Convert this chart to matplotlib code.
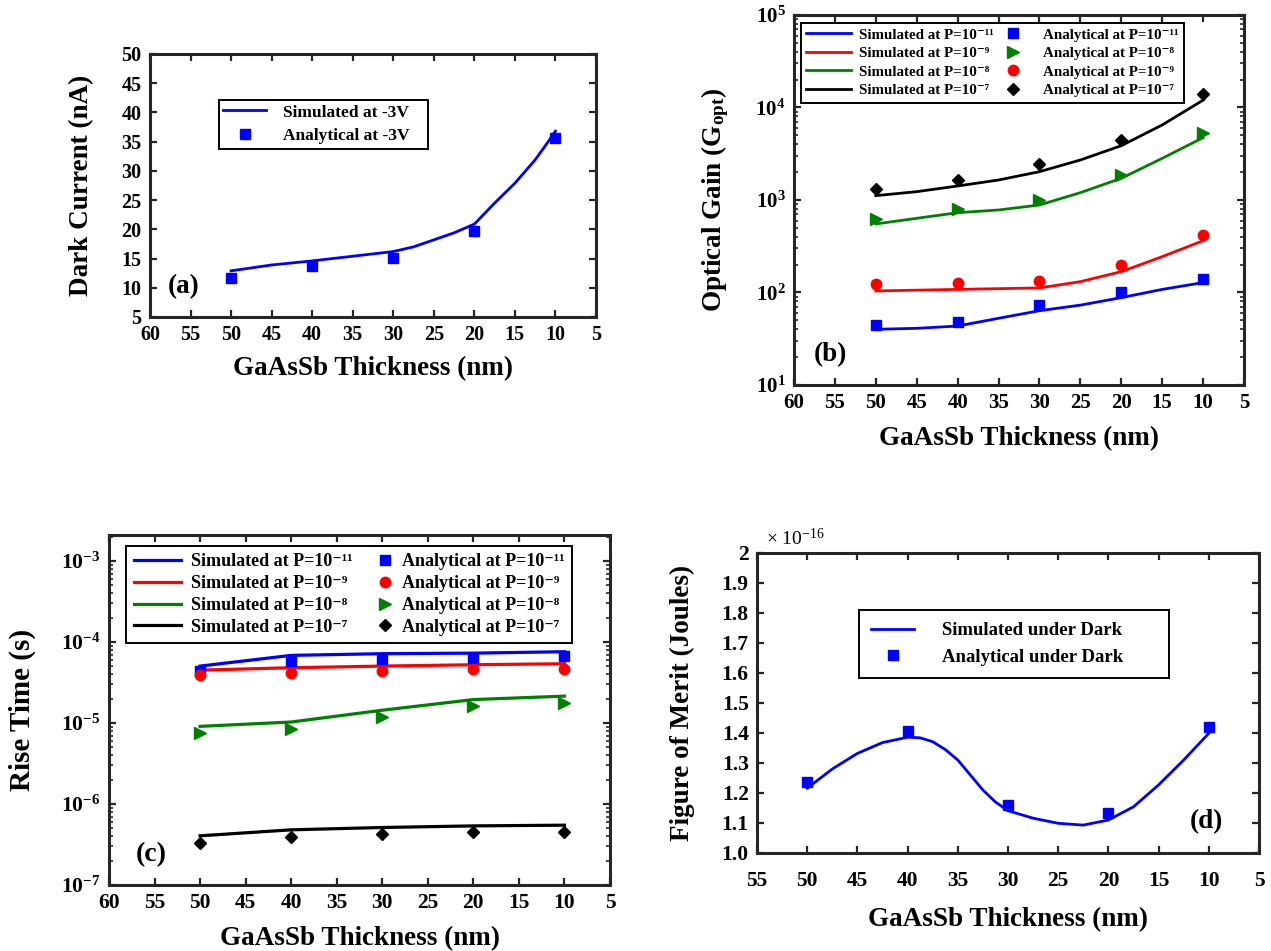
import matplotlib
matplotlib.use("Agg")
import matplotlib.pyplot as plt
from matplotlib.ticker import FixedLocator, FixedFormatter, LogLocator, NullFormatter
from matplotlib.legend_handler import HandlerLine2D

plt.rcParams['font.family'] = ['Liberation Serif', 'DejaVu Serif']
plt.rcParams['font.weight'] = 'bold'
plt.rcParams['axes.labelweight'] = 'bold'
plt.rcParams['mathtext.fontset'] = 'custom'
plt.rcParams['mathtext.rm'] = 'Liberation Serif:bold'
plt.rcParams['mathtext.bf'] = 'Liberation Serif:bold'
plt.rcParams['mathtext.it'] = 'Liberation Serif:bold:italic'
plt.rcParams['axes.unicode_minus'] = False

# ---------------- data ----------------
thick = [50, 40, 30, 20, 10]
thick_fine = [50, 45, 40, 35, 30, 25, 20, 15, 10]

# (a) dark current (nA)
dark_sim_x = [50, 45, 40, 35, 30, 27.5, 25, 22.5, 20, 17.5, 15, 13.75, 12.5, 11.25, 10]
dark_sim = [12.9, 13.9, 14.6, 15.4, 16.2, 17.0, 18.2, 19.4, 20.9, 24.5, 27.9, 29.9, 31.9, 34.3, 36.8]
dark_ana = [11.7, 13.7, 15.1, 19.8, 35.7]

# (b) optical gain
gain_sim_p11 = [40, 41, 43.4, 52.6, 63.6, 73, 88, 108, 128]
gain_sim_p9 = [104, 106, 108, 110, 112, 131, 168, 244, 363]
gain_sim_p8 = [551, 634, 729, 780, 883, 1200, 1716, 2820, 4720]
gain_sim_p7 = [1114, 1231, 1417, 1645, 2023, 2706, 3865, 6475, 12000]
gain_ana_p11 = [44.6, 48.3, 73.3, 100, 141]
gain_ana_p8 = [618, 800, 1000, 1880, 5250]
gain_ana_p9 = [124, 127, 134, 197, 419]
gain_ana_p7 = [1305, 1645, 2450, 4460, 13900]

# (c) rise time (s)
rise_sim_p11 = [5.05e-5, 6.85e-5, 7.19e-5, 7.3e-5, 7.6e-5]
rise_sim_p9 = [4.5e-5, 4.82e-5, 5.05e-5, 5.25e-5, 5.4e-5]
rise_sim_p8 = [9.1e-6, 1.03e-5, 1.44e-5, 1.95e-5, 2.15e-5]
rise_sim_p7 = [4.05e-7, 4.8e-7, 5.13e-7, 5.37e-7, 5.48e-7]
rise_ana_p11 = [4.38e-5, 5.8e-5, 6.2e-5, 6.4e-5, 6.7e-5]
rise_ana_p9 = [3.9e-5, 4.18e-5, 4.35e-5, 4.6e-5, 4.6e-5]
rise_ana_p8 = [7.57e-6, 8.48e-6, 1.19e-5, 1.61e-5, 1.78e-5]
rise_ana_p7 = [3.28e-7, 3.97e-7, 4.24e-7, 4.45e-7, 4.45e-7]

# (d) figure of merit (x1e-16 J)
FOM_SCALE = 1e-16
fom_sim_x = [50, 47.5, 45, 42.5, 40, 38.75, 37.5, 36.25, 35, 33.75, 32.5, 31.25, 30, 27.5, 25,
             22.5, 20, 17.5, 15, 12.5, 10]
fom_sim = [1.216, 1.28, 1.332, 1.368, 1.386, 1.384, 1.371, 1.345, 1.31, 1.26, 1.21, 1.17, 1.141,
           1.116, 1.099, 1.093, 1.11, 1.154, 1.227, 1.31, 1.399]
fom_ana = [1.236, 1.408, 1.16, 1.132, 1.421]

xticks_60 = [60, 55, 50, 45, 40, 35, 30, 25, 20, 15, 10, 5]
xticks_55 = [55, 50, 45, 40, 35, 30, 25, 20, 15, 10, 5]
fom_ticks = [1.0, 1.1, 1.2, 1.3, 1.4, 1.5, 1.6, 1.7, 1.8, 1.9, 2.0]
fom_ticklabels = ['1.0', '1.1', '1.2', '1.3', '1.4', '1.5', '1.6', '1.7', '1.8', '1.9', '2']

SUP = {'-11': '\u207b\u00b9\u00b9', '-9': '\u207b\u2079', '-8': '\u207b\u2078', '-7': '\u207b\u2077'}
sim_lab = {k: 'Simulated at P=10' + v for k, v in SUP.items()}
ana_lab = {k: 'Analytical at P=10' + v for k, v in SUP.items()}

BLUE = (0, 0, 1)
RED = (1, 0, 0)
GREEN = (0, 0.5, 0)
BLACK = (0, 0, 0)
AXC = '#262626'

MS_SQ = 6.5
MS_CIR = 7.5
MS_TRI = 8
MS_DIA = 6.6

fig = plt.figure(figsize=(12.71, 9.51), dpi=100)


class MarkerRight(HandlerLine2D):
    """Marker-only legend handle drawn near the right end of the handle box."""
    def get_xdata(self, legend, xdescent, ydescent, width, height, fontsize):
        x1 = width - xdescent
        xd = [x1 - 0.7 * fontsize, x1]
        return xd, [x1 - 0.35 * fontsize]


def style(ax, fs_tick, xpad=6):
    for s in ax.spines.values():
        s.set_linewidth(2.2)
        s.set_color(AXC)
    ax.tick_params(which='major', direction='in', length=5, width=1.6, top=True, right=True,
                   labelsize=fs_tick, color=AXC, pad=6)
    ax.tick_params(axis='x', which='major', pad=xpad)
    ax.tick_params(which='minor', direction='in', length=3, width=1.2, top=True, right=True,
                   color=AXC)
    for lab in ax.get_xticklabels() + ax.get_yticklabels():
        lab.set_fontweight('bold')


def frame(leg):
    leg.get_frame().set_linewidth(1.4)
    leg.get_frame().set_alpha(1.0)


LW = 2.0

# ---------------- (a) ----------------
axa = fig.add_axes([150/1271, 1-317/951, 446/1271, 263/951])
axa.plot(dark_sim_x, dark_sim, color=BLUE, lw=LW, label='Simulated at -3V')
axa.plot(thick, dark_ana, 's', color=BLUE, ms=MS_SQ, label='Analytical at -3V')
axa.set_xlim(60, 5)
axa.set_ylim(5, 50)
axa.set_xticks(xticks_60)
axa.set_yticks(list(range(5, 55, 5)))
style(axa, 14.5)
axa.set_xlabel('GaAsSb Thickness (nm)', fontsize=19.5)
axa.set_ylabel('Dark Current (nA)', fontsize=19.5)
axa.xaxis.set_label_coords(0.5, -0.15)
axa.yaxis.set_label_coords(-0.125, 0.5)
axa.text(0.076, 0.114, '(a)', transform=axa.transAxes, fontsize=19.5, ha='center', va='center')
la = axa.legend(loc='upper left', bbox_to_anchor=(0.155, 0.825 - 0.213, 0.469, 0.213),
                mode='expand', fontsize=12.5, frameon=True, fancybox=False, edgecolor='black',
                borderpad=0.25, labelspacing=0.45, handlelength=2.45, handletextpad=1.0,
                borderaxespad=0)
frame(la)

# ---------------- (b) ----------------
axb = fig.add_axes([794/1271, 1-385/951, 450/1271, 370/951])
hb = []
hb += axb.plot(thick_fine, gain_sim_p11, color=BLUE, lw=LW, label=sim_lab['-11'])
hb += axb.plot(thick_fine, gain_sim_p9, color=RED, lw=LW, label=sim_lab['-9'])
hb += axb.plot(thick_fine, gain_sim_p8, color=GREEN, lw=LW, label=sim_lab['-8'])
hb += axb.plot(thick_fine, gain_sim_p7, color=BLACK, lw=LW, label=sim_lab['-7'])
hb += axb.plot(thick, gain_ana_p11, 's', color=BLUE, ms=MS_SQ, label=ana_lab['-11'])
hb += axb.plot(thick, gain_ana_p8, '>', color=GREEN, ms=MS_TRI, label=ana_lab['-8'])
hb += axb.plot(thick, gain_ana_p9, 'o', color=RED, ms=MS_CIR, label=ana_lab['-9'])
hb += axb.plot(thick, gain_ana_p7, 'D', color=BLACK, ms=MS_DIA, label=ana_lab['-7'])
axb.set_yscale('log')
axb.set_xlim(60, 5)
axb.set_ylim(10, 1e5)
axb.set_xticks(xticks_60)
axb.yaxis.set_minor_locator(LogLocator(base=10, subs=range(2, 10), numticks=20))
axb.yaxis.set_minor_formatter(NullFormatter())
style(axb, 15)
axb.set_xlabel('GaAsSb Thickness (nm)', fontsize=19.5)
axb.set_ylabel('Optical Gain (G$_{\\mathrm{opt}}$)', fontsize=19.5)
axb.xaxis.set_label_coords(0.5, -0.11)
axb.yaxis.set_label_coords(-0.14, 0.5)
axb.text(0.08, 0.081, '(b)', transform=axb.transAxes, fontsize=19.5, ha='center', va='center')
lb = axb.legend(handles=hb, ncol=2, loc='upper left',
                bbox_to_anchor=(0.016, 0.979 - 0.213, 0.851, 0.213), mode='expand',
                fontsize=10.8, frameon=True, fancybox=False, edgecolor='black',
                borderpad=0.35, labelspacing=0.34, handlelength=2.95, handletextpad=0.55,
                columnspacing=0.6, borderaxespad=0)
frame(lb)

# ---------------- (c) ----------------
axc = fig.add_axes([109/1271, 1-885/951, 501/1271, 350/951])
hc = []
hc += axc.plot(thick, rise_sim_p11, color=BLUE, lw=LW + 0.3, label=sim_lab['-11'])
hc += axc.plot(thick, rise_sim_p9, color=RED, lw=LW + 0.3, label=sim_lab['-9'])
hc += axc.plot(thick, rise_sim_p8, color=GREEN, lw=LW + 0.3, label=sim_lab['-8'])
hc += axc.plot(thick, rise_sim_p7, color=BLACK, lw=LW + 0.3, label=sim_lab['-7'])
ana_c = []
ana_c += axc.plot(thick, rise_ana_p11, 's', color=BLUE, ms=MS_SQ, label=ana_lab['-11'])
ana_c += axc.plot(thick, rise_ana_p9, 'o', color=RED, ms=MS_CIR, label=ana_lab['-9'])
ana_c += axc.plot(thick, rise_ana_p8, '>', color=GREEN, ms=MS_TRI, label=ana_lab['-8'])
ana_c += axc.plot(thick, rise_ana_p7, 'D', color=BLACK, ms=MS_DIA, label=ana_lab['-7'])
hc += ana_c
axc.set_yscale('log')
axc.set_xlim(60, 5)
axc.set_ylim(1e-7, 2.1e-3)
axc.set_xticks(xticks_60)
axc.yaxis.set_minor_locator(LogLocator(base=10, subs=range(2, 10), numticks=20))
axc.yaxis.set_minor_formatter(NullFormatter())
style(axc, 15.5)
axc.set_xlabel('GaAsSb Thickness (nm)', fontsize=19.5)
axc.set_ylabel('Rise Time (s)', fontsize=21)
axc.xaxis.set_label_coords(0.5, -0.118)
axc.yaxis.set_label_coords(-0.145, 0.5)
axc.text(0.084, 0.086, '(c)', transform=axc.transAxes, fontsize=20, ha='center', va='center')
lc = axc.legend(handles=hc, ncol=2, loc='upper left',
                bbox_to_anchor=(0.034, 0.969 - 0.266, 0.89, 0.266), mode='expand',
                fontsize=13, frameon=True, fancybox=False, edgecolor='black',
                borderpad=0.42, labelspacing=0.26, handlelength=2.6, handletextpad=0.6,
                columnspacing=0.4, borderaxespad=0,
                handler_map={h: MarkerRight(numpoints=1) for h in ana_c})
frame(lc)

# ---------------- (d) ----------------
axd = fig.add_axes([757/1271, 1-853/951, 502/1271, 300/951])
axd.plot(fom_sim_x, [v * FOM_SCALE for v in fom_sim], color=BLUE, lw=LW,
         label='Simulated under Dark')
axd.plot(thick, [v * FOM_SCALE for v in fom_ana], 's', color=BLUE, ms=MS_SQ,
         label='Analytical under Dark')
axd.set_xlim(55, 5)
axd.set_ylim(1.0 * FOM_SCALE, 2.0 * FOM_SCALE)
axd.set_xticks(xticks_55)
axd.yaxis.set_major_locator(FixedLocator([t * FOM_SCALE for t in fom_ticks]))
axd.yaxis.set_major_formatter(FixedFormatter(fom_ticklabels))
style(axd, 15.5, xpad=13)
axd.set_xlabel('GaAsSb Thickness (nm)', fontsize=19.5)
axd.set_ylabel('Figure of Merit (Joules)', fontsize=19.5)
axd.xaxis.set_label_coords(0.5, -0.18)
axd.yaxis.set_label_coords(-0.124, 0.5)
axd.text(0.018, 1.012, '\u00d7 10$^{\\mathregular{-16}}$', transform=axd.transAxes,
         fontsize=14, fontweight='normal', ha='left', va='bottom')
axd.text(0.896, 0.103, '(d)', transform=axd.transAxes, fontsize=19.5, ha='center', va='center')
ld = axd.legend(loc='upper left', bbox_to_anchor=(0.203, 0.81 - 0.26, 0.618, 0.26),
                mode='expand', fontsize=13.5, frameon=True, fancybox=False, edgecolor='black',
                borderpad=0.65, labelspacing=0.5, handlelength=2.3, handletextpad=1.5,
                borderaxespad=0)
frame(ld)

fig.savefig('out.png', dpi=100)
